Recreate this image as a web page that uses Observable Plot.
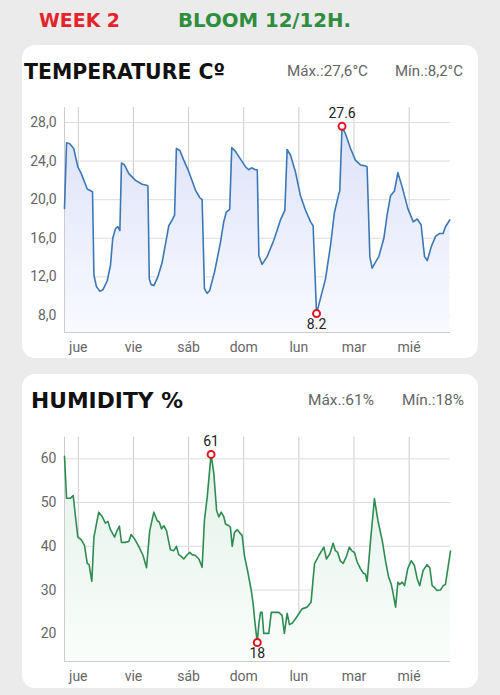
<!DOCTYPE html>
<html>
<head>
<meta charset="utf-8">
<script src="https://cdn.jsdelivr.net/npm/d3@7"></script>
<script src="https://cdn.jsdelivr.net/npm/@observablehq/plot@0.6"></script>
<style>
  html, body { margin: 0; padding: 0; background: #ebebeb; }
  #wrap { position: relative; width: 500px; height: 695px; overflow: hidden; background: #ebebeb; }
  .card { position: absolute; background: #fff; border-radius: 13px; }
  .plot { position: absolute; left: 0; }
  .plot svg text { font-size: 14px; font-family: Roboto, 'Noto Sans', sans-serif; }
  #overlay { position: absolute; left: 0; top: 0; }
</style>
</head>
<body>
<div id="wrap">
  <div class="card" style="left:22px;top:45px;width:456px;height:313px"></div>
  <div class="card" style="left:22px;top:374px;width:456px;height:314px"></div>
  <div class="plot" id="tempPlot" style="top:100px"></div>
  <div class="plot" id="humPlot" style="top:430px"></div>
  <svg id="overlay" width="500" height="695"></svg>
</div>
<script>
// ---------- data (hours since start, Wed ~18:00) ----------
const dayLabels = ["jue", "vie", "sáb", "dom", "lun", "mar", "mié"];
const dayTickHours = [6, 30, 54, 78, 102, 126, 150];

const tempTicks = [8, 12, 16, 20, 24, 28];
const humTicks = [20, 30, 40, 50, 60];

const tempHours = [0,0.9,2.3,4,5.8,7.3,9.9,11.6,12.2,12.8,13.9,15.4,16.8,18.6,20,21,22.2,23.2,24.1,24.8,26.1,28,30.9,33.8,35.7,36.3,36.9,37.7,38.9,40.6,42.5,44.4,45.4,46.9,47.9,48.7,50.2,51.9,54.1,57,58.9,59.9,60.9,62.1,63.2,65.3,67.9,69.3,70.4,71.9,72.8,74.4,76.6,78.8,80.2,81.4,83.1,83.9,84.6,86,88.2,91.1,94,95.9,96.9,98.4,100.5,102.7,104.9,107.1,108.2,109.7,113.6,115.8,117.5,119.4,119.8,120.8,122.3,124.5,126.6,128.8,131,131.7,132.9,133.9,135.3,136.8,139,140.4,141.9,143.6,145.1,147,149.4,151.8,153.5,155.2,156.7,157.9,159.6,161.5,163.3,164.8,165.8,167.7];
const tempValues = [19.1,25.9,25.8,25.3,23.4,22.7,21.1,20.9,20.8,12.2,11.0,10.5,10.7,11.6,13.2,16.0,17.0,17.2,16.8,23.8,23.6,22.7,22.0,21.6,21.5,21.4,11.8,11.2,11.1,12.0,13.5,16.0,17.3,17.9,18.4,25.3,25.1,24.1,22.9,21.0,20.2,20.0,10.8,10.3,10.6,12.5,15.6,17.7,18.7,19.0,25.4,25.0,24.2,23.4,23.1,23.3,23.1,23.1,14.2,13.3,14.1,15.8,17.9,18.9,25.2,24.6,22.9,20.4,18.9,17.7,17.3,8.2,11.8,15.3,18.7,20.6,20.9,27.6,26.8,25.3,24.1,23.6,23.5,23.4,14.1,12.9,13.5,14.1,16.0,18.4,20.4,20.9,22.8,21.3,19.1,17.7,18.0,17.4,14.1,13.7,15.1,16.2,16.5,16.5,17.2,17.9];

const humHours = [0,0.9,2.6,3.8,4.8,5.8,7.3,8.7,9.9,10.7,11.9,12.8,14.9,16.4,17.8,18.9,20,21.8,22.9,23.9,24.8,26.5,28,29,30.5,32.3,34.2,35.7,37.1,38.9,40.3,41.3,42.2,43.2,44.4,46.1,47.6,48.7,49.7,50.8,51.9,53.1,54.5,55.6,57,58.5,59.9,60.9,62.1,63.8,65,66.2,67.2,68.2,69.3,70.1,71.5,72.2,73,74,75.2,76.6,77.3,78.3,79.8,81.3,82.1,82.8,83.9,84.6,85.3,86,86.7,88.9,90,93.3,94.7,95.7,96.9,97.9,99.1,101.3,103.4,105.6,107.3,108.8,110.7,112.9,114,115.5,116.9,117.9,118.9,120.1,121.3,122.7,124,125.2,126.2,127.4,128.8,130,131,131.7,133.2,134.9,136.4,138.3,139.7,141.1,142.2,143,144.1,145.1,145.9,147,148,149.4,150.9,152.3,153.5,154.6,156.1,157.8,159,160,161,162.2,163.6,164.8,165.8,168];
const humValues = [60.6,51,51,51.6,46.7,42.1,41.5,40.2,36.1,35.8,32,42.1,47.8,46.8,45.3,45.7,43.8,42.1,43.6,44.6,40.9,40.9,41.1,42.7,41.7,40,37.9,35.1,43.6,47.8,45.9,45.5,44,44.7,43.6,39.2,39,40,38.1,37.7,37.1,37.9,38.6,38.1,37.9,37.1,35.2,45.9,51.2,61,56.6,48.2,46.7,47.8,46.8,45.1,44.7,44.4,40,43.2,43.8,42.9,42.5,37.9,34.1,29.9,26.9,23,18,22.3,24.9,24.9,20.1,20.1,24.9,24.9,24.2,20.1,24.7,22.1,22.4,24,25.7,26.1,27.2,36,37.9,39.8,37.1,38.3,40.7,39,38.6,36.6,36.1,37.7,39.8,38.9,38.6,36.4,34.9,33.9,33.6,32,41.3,50.9,45.9,41.3,36.7,32.9,31.4,29.3,26.1,31.8,31.3,31.8,31,34.9,36.7,35.6,32.6,31,34.5,35.8,35.1,31,30.6,29.9,30,31,31.3,38.9];

// ---------- chart builder ----------
function buildChart(hours, values, opts) {
  const data = hours.map((h, i) => ({h, v: values[i]}));
  const iMax = d3.maxIndex(values), iMin = d3.minIndex(values);
  const maxPt = [data[iMax]], minPt = [data[iMin]];
  const [y0, y1] = opts.yDomain;
  const svg = Plot.plot({
    width: 500,
    height: 260,
    marginLeft: 64,
    marginRight: 50,
    marginTop: opts.marginTop,
    marginBottom: opts.marginBottom,
    style: {fontFamily: "Roboto, 'Noto Sans', sans-serif", fontSize: "14px", color: "#666", background: "transparent", overflow: "visible"},
    x: {domain: [0, 168], ticks: dayTickHours, tickFormat: d => dayLabels[dayTickHours.indexOf(d)], tickSize: 0, tickPadding: 10, label: null},
    y: {domain: [y0, y1], ticks: opts.yTicks, tickFormat: opts.yFormat, tickSize: 0, tickPadding: 8, label: null},
    marks: [
      Plot.ruleX(dayTickHours, {stroke: "#cccccc", strokeWidth: 1}),
      Plot.ruleY(opts.yTicks, {stroke: "#dddddd", strokeWidth: 1}),
      Plot.areaY(data, {x: "h", y1: y0, y2: "v", fill: `url(#${opts.gradId})`}),
      Plot.ruleX([0], {stroke: "#cccccc"}),
      Plot.ruleY([y0], {stroke: "#cccccc"}),
      Plot.lineY(data, {x: "h", y: "v", stroke: opts.lineColor, strokeWidth: 1.6, curve: "linear"}),
      Plot.dot(maxPt, {x: "h", y: "v", r: 3.5, stroke: "#e0141e", strokeWidth: 2, fill: "#fff"}),
      Plot.dot(minPt, {x: "h", y: "v", r: 3.5, stroke: "#e0141e", strokeWidth: 2, fill: "#fff"}),
      Plot.text(maxPt, {x: "h", y: "v", text: d => opts.labelFormat(d.v), dy: -13, fontSize: 14, fill: "#222"}),
      Plot.text(minPt, {x: "h", y: "v", text: d => opts.labelFormat(d.v), dy: 11, fontSize: 14, fill: "#222"})
    ]
  });
  const defs = d3.select(svg).insert("defs", ":first-child");
  const g = defs.append("linearGradient").attr("id", opts.gradId).attr("x1", 0).attr("y1", 0).attr("x2", 0).attr("y2", 1);
  g.append("stop").attr("offset", "0%").attr("stop-color", opts.fillTop);
  g.append("stop").attr("offset", "100%").attr("stop-color", opts.fillBottom);
  return svg;
}

document.getElementById("tempPlot").appendChild(buildChart(tempHours, tempValues, {
  yDomain: [6.24, 29.55], yTicks: tempTicks, yFormat: d => d.toFixed(1).replace(".", ","),
  marginTop: 7, marginBottom: 28, gradId: "tg", lineColor: "#3b78b5",
  fillTop: "#dde2f8", fillBottom: "#f9faff", labelFormat: v => v.toFixed(1)
}));

document.getElementById("humPlot").appendChild(buildChart(humHours, humValues, {
  yDomain: [13.67, 64.94], yTicks: humTicks, yFormat: d => String(d),
  marginTop: 6.7, marginBottom: 29, gradId: "hg", lineColor: "#2e8b52",
  fillTop: "#e3f2e9", fillBottom: "#fafdfb", labelFormat: v => String(Math.round(v))
}));

// ---------- titles / headers ----------
const headers = [
  {text: "WEEK 2", x: 39, y: 26.5, len: 81, size: 19, fill: "#e5232b", font: "'DejaVu Sans', sans-serif", weight: 900},
  {text: "BLOOM 12/12H.", x: 178, y: 26.5, len: 173, size: 19, fill: "#2e8e3e", font: "'DejaVu Sans', sans-serif", weight: 900},
  {text: "TEMPERATURE Cº", x: 24, y: 79, len: 201, size: 22, fill: "#111", font: "'DejaVu Sans', sans-serif", weight: 900},
  {text: "Máx.:27,6°C", x: 287, y: 76, len: 81, size: 15, fill: "#666", font: "Roboto, sans-serif", weight: 400},
  {text: "Mín.:8,2°C", x: 395, y: 76, len: 68, size: 15, fill: "#666", font: "Roboto, sans-serif", weight: 400},
  {text: "HUMIDITY %", x: 31, y: 408, len: 152, size: 22, fill: "#111", font: "'DejaVu Sans', sans-serif", weight: 900},
  {text: "Máx.:61%", x: 308, y: 405, len: 66, size: 15, fill: "#666", font: "Roboto, sans-serif", weight: 400},
  {text: "Mín.:18%", x: 402, y: 405, len: 62, size: 15, fill: "#666", font: "Roboto, sans-serif", weight: 400}
];
d3.select("#overlay").selectAll("text").data(headers).join("text")
  .attr("x", d => d.x).attr("y", d => d.y)
  .attr("textLength", d => d.len).attr("lengthAdjust", "spacingAndGlyphs")
  .attr("font-size", d => d.size).attr("font-family", d => d.font).attr("font-weight", d => d.weight)
  .attr("fill", d => d.fill)
  .text(d => d.text);
</script>
</body>
</html>
